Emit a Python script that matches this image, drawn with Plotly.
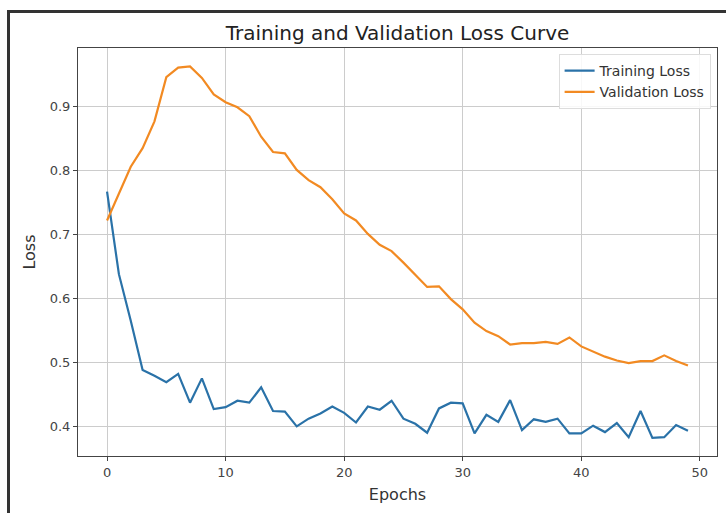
import plotly.graph_objects as go

epochs = list(range(50))
train_loss = [0.767, 0.638, 0.565, 0.488, 0.479, 0.469, 0.482, 0.437, 0.475, 0.427,
              0.430, 0.440, 0.437, 0.461, 0.424, 0.423, 0.400, 0.412, 0.420, 0.431,
              0.421, 0.406, 0.431, 0.426, 0.440, 0.412, 0.404, 0.390, 0.428, 0.437,
              0.436, 0.389, 0.418, 0.407, 0.441, 0.394, 0.411, 0.407, 0.412, 0.389,
              0.389, 0.401, 0.391, 0.405, 0.383, 0.424, 0.382, 0.383, 0.402, 0.393]
val_loss = [0.722, 0.764, 0.806, 0.835, 0.877, 0.946, 0.961, 0.963, 0.945, 0.919,
            0.907, 0.899, 0.885, 0.853, 0.829, 0.827, 0.801, 0.785, 0.774, 0.755,
            0.733, 0.722, 0.701, 0.684, 0.674, 0.656, 0.637, 0.618, 0.619, 0.599,
            0.583, 0.562, 0.549, 0.541, 0.528, 0.530, 0.530, 0.532, 0.529, 0.539,
            0.525, 0.517, 0.509, 0.503, 0.499, 0.502, 0.502, 0.511, 0.502, 0.495]
x_ticks = [0, 10, 20, 30, 40, 50]
y_ticks = [0.4, 0.5, 0.6, 0.7, 0.8, 0.9]

FONT = "DejaVu Sans"
fig = go.Figure()
fig.add_trace(go.Scatter(x=epochs, y=train_loss, mode="lines", name="Training Loss",
                         line=dict(color="#2a72a8", width=2.2)))
fig.add_trace(go.Scatter(x=epochs, y=val_loss, mode="lines", name="Validation Loss",
                         line=dict(color="#f28a22", width=2.2)))

W, H = 726, 513
L, R, T, B = 78, 9, 48, 57
pw, ph = W - L - R, H - T - B

def px_x(p):
    return (p - L) / pw

def px_y(p):
    return 1 - (p - T) / ph

fig.update_layout(
    width=W, height=H,
    margin=dict(l=L, r=R, t=T, b=B),
    paper_bgcolor="white", plot_bgcolor="white",
    font=dict(family=FONT, color="#333", size=13),
    title=dict(text="Training and Validation Loss Curve", x=(L + pw / 2) / W, xanchor="center",
               y=1 - 33 / H, yanchor="middle", font=dict(size=20, color="#222", family=FONT)),
    xaxis=dict(range=[-2.45, 51.45], tickvals=x_ticks, showgrid=True, gridcolor="#cccccc",
               gridwidth=1, zeroline=False, showline=True, linecolor="#444", linewidth=1,
               mirror=True, ticks="outside", ticklen=4, tickcolor="#444",
               tickfont=dict(size=13, color="#444"),
               title=dict(text="Epochs", font=dict(size=16, color="#333"), standoff=10)),
    yaxis=dict(range=[0.3536, 0.9917], tickvals=y_ticks, tickformat=".1f", showgrid=True,
               gridcolor="#cccccc", gridwidth=1, zeroline=False, showline=True, linecolor="#444",
               linewidth=1, mirror=True, ticks="outside", ticklen=4, tickcolor="#444",
               tickfont=dict(size=13, color="#444"),
               title=dict(text="Loss", font=dict(size=16, color="#333"), standoff=10)),
    legend=dict(x=0.99, y=0.985, xanchor="right", yanchor="top", bgcolor="rgba(255,255,255,0.85)",
                bordercolor="#dddddd", borderwidth=1, font=dict(size=14, color="#333")),
    showlegend=True,
)

# screenshot frame
fig.add_shape(type="line", xref="paper", yref="paper", x0=px_x(8.5), x1=px_x(8.5),
              y0=px_y(11.5), y1=px_y(513), line=dict(color="#333", width=3))
fig.add_shape(type="line", xref="paper", yref="paper", x0=px_x(7), x1=px_x(726),
              y0=px_y(11.5), y1=px_y(11.5), line=dict(color="#333", width=3))

fig.write_html("out.html")
